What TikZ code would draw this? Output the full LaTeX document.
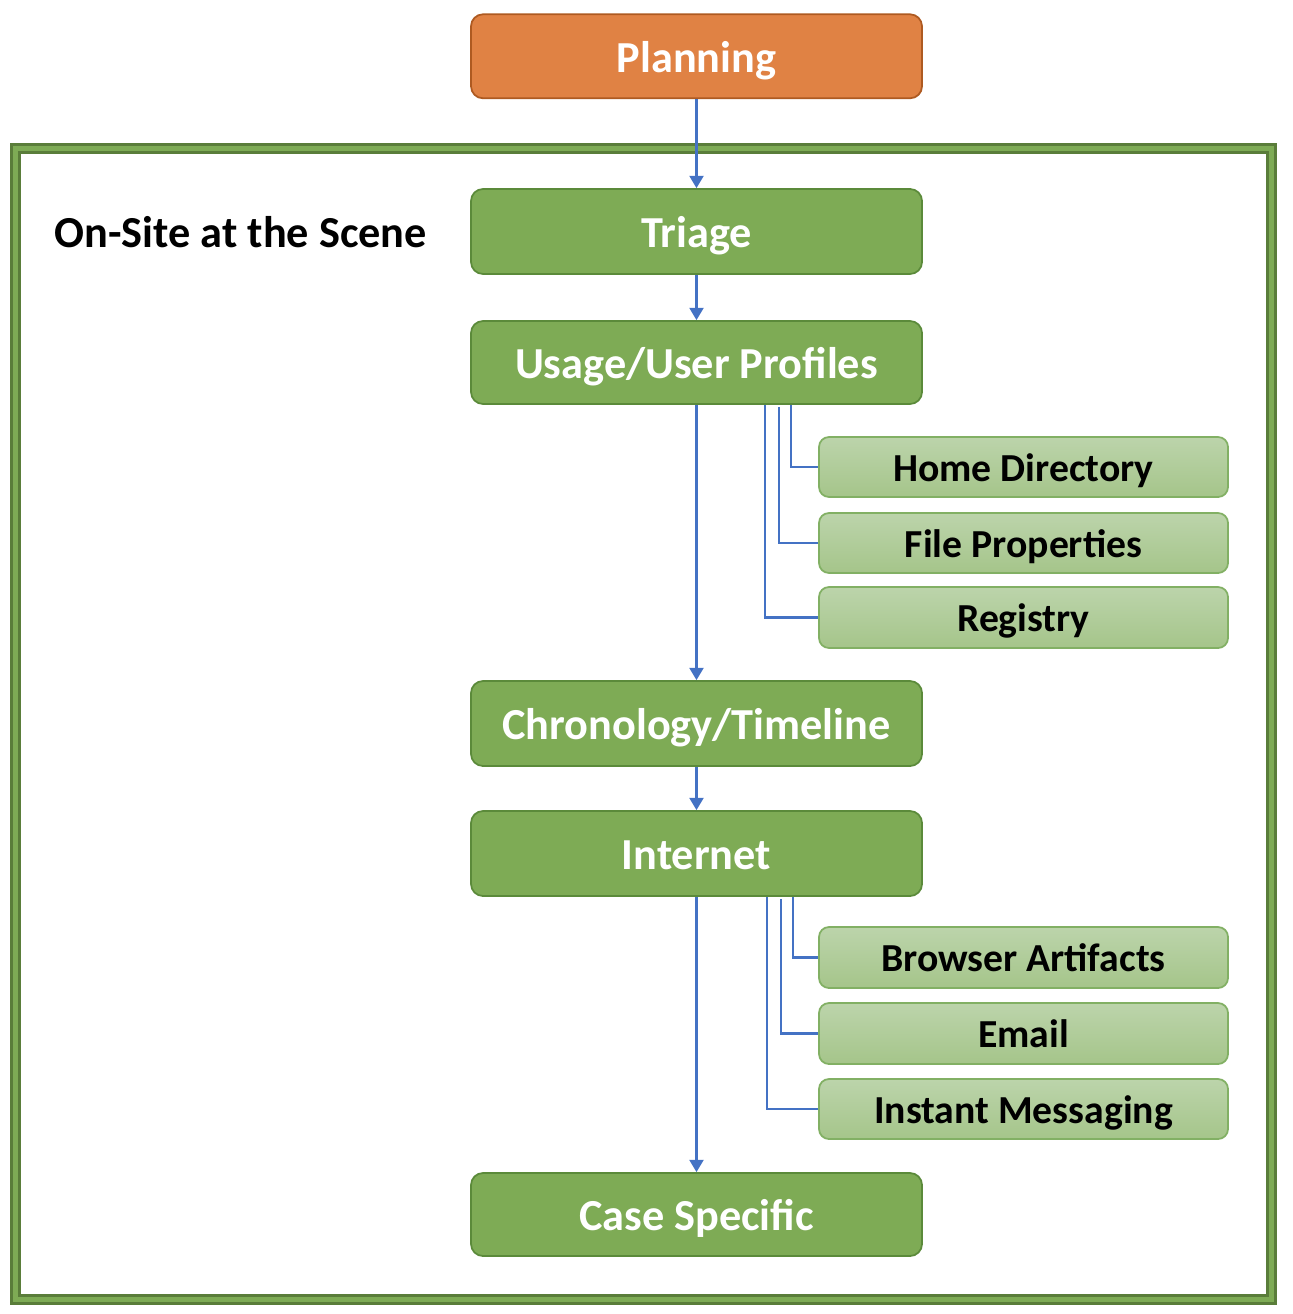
\documentclass[tikz,border=0pt]{standalone}
\usepackage{fontspec}
\setmainfont{Carlito}
\usetikzlibrary{arrows.meta}

\definecolor{planfill}{HTML}{E08244}
\definecolor{planedge}{HTML}{AE5A21}
\definecolor{stepfill}{HTML}{7EAB55}
\definecolor{stepedge}{HTML}{5B8A3A}
\definecolor{subtop}{HTML}{BCD4AB}
\definecolor{subbot}{HTML}{A5C58A}
\definecolor{subedge}{HTML}{82B064}
\definecolor{framedark}{HTML}{5A7D3A}
\definecolor{linkblue}{HTML}{4472C4}

\tikzset{
    mainbox/.style={draw=stepedge, fill=stepfill, line width=0.5pt, rounded corners=0.12cm,
        minimum width=4.51cm, minimum height=0.85cm, text=white, inner ysep=0pt,
        text height=1.08em, text depth=0.18em,
        font=\fontsize{12.6}{15}\selectfont\bfseries},
    subbox/.style={draw=subedge, top color=subtop, bottom color=subbot, line width=0.5pt,
        rounded corners=0.1cm, minimum width=4.09cm, minimum height=0.6cm, text=black,
        inner ysep=0pt, text height=1.0em, text depth=0.2em,
        font=\fontsize{11.3}{13}\selectfont\bfseries},
    link/.style={draw=linkblue, line width=0.6pt},
    arrowlink/.style={link, -{Triangle[width=4pt,length=3.5pt]}}
}

\begin{document}
\begin{tikzpicture}
    \useasboundingbox (0,0) rectangle (12.92,-13.14);

    % outer frame
    \draw[draw=framedark, line width=0.11cm] (0.155,-1.485) rectangle (12.715,-12.995);
    \draw[draw=stepfill, line width=0.055cm] (0.155,-1.485) rectangle (12.715,-12.995);
    \node[anchor=base west, inner sep=0pt, font=\fontsize{12.6}{15}\selectfont\bfseries] (scene) at (0.54,-2.477) {On-Site at the Scene};

    % main steps
    \node[mainbox, draw=planedge, fill=planfill, minimum height=0.84cm] (plan) at (6.965,-0.563) {Planning};
    \node[mainbox] (triage) at (6.965,-2.315) {Triage};
    \node[mainbox, minimum height=0.83cm] (usage) at (6.965,-3.625) {Usage/User Profiles};
    \node[mainbox] (chrono) at (6.965,-7.235) {Chronology/Timeline};
    \node[mainbox] (inet) at (6.965,-8.535) {Internet};
    \node[mainbox, minimum height=0.83cm] (case) at (6.965,-12.145) {Case Specific};

    % sub items
    \node[subbox] (home) at (10.235,-4.67) {Home Directory};
    \node[subbox] (props) at (10.235,-5.43) {File Properties};
    \node[subbox, minimum height=0.61cm] (reg) at (10.235,-6.175) {Registry};
    \node[subbox, minimum height=0.61cm] (browser) at (10.235,-9.575) {Browser Artifacts};
    \node[subbox, minimum height=0.61cm] (email) at (10.235,-10.335) {Email};
    \node[subbox] (im) at (10.235,-11.09) {Instant Messaging};

    % connectors
    \draw[arrowlink] (plan) -- (triage);
    \draw[arrowlink] (triage) -- (usage);
    \draw[arrowlink] (usage) -- (chrono);
    \draw[arrowlink] (chrono) -- (inet);
    \draw[arrowlink] (inet) -- (case);

    \draw[link] ([xshift=0.945cm]usage.south) |- (home.west);
    \draw[link] ([xshift=0.825cm,yshift=-0.02cm]usage.south) |- (props.west);
    \draw[link] ([xshift=0.685cm]usage.south) |- (reg.west);
    \draw[link] ([xshift=0.965cm]inet.south) |- (browser.west);
    \draw[link] ([xshift=0.845cm,yshift=-0.02cm]inet.south) |- (email.west);
    \draw[link] ([xshift=0.705cm]inet.south) |- (im.west);
\end{tikzpicture}
\end{document}
